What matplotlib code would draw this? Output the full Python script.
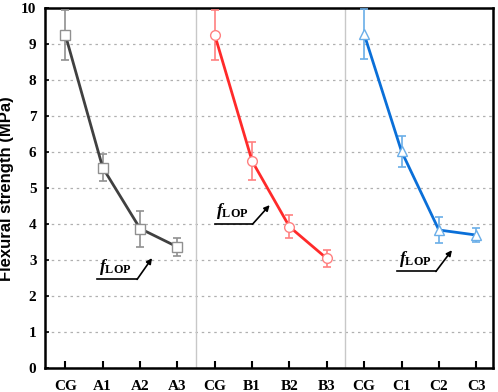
import matplotlib.pyplot as plt
import numpy as np

plt.rcParams['font.family'] = 'Liberation Serif'
plt.rcParams['mathtext.fontset'] = 'custom'
plt.rcParams['mathtext.rm'] = 'Liberation Serif'
plt.rcParams['mathtext.it'] = 'Liberation Serif:italic'
plt.rcParams['mathtext.bf'] = 'Liberation Serif:bold'
plt.rcParams['mathtext.bfit'] = 'Liberation Serif:italic:bold'

labels = ['CG', 'A1', 'A2', 'A3', 'CG', 'B1', 'B2', 'B3', 'CG', 'C1', 'C2', 'C3']

a_vals = [9.25, 5.57, 3.88, 3.37]
a_err = [0.70, 0.38, 0.50, 0.26]
b_vals = [9.25, 5.75, 3.93, 3.05]
b_err = [0.70, 0.53, 0.32, 0.24]
c_vals = [9.27, 6.02, 3.84, 3.70]
c_err = [0.70, 0.43, 0.35, 0.20]

series = [
    (a_vals, a_err, 's', '#404040', '#909090'),
    (b_vals, b_err, 'o', '#ff2a2a', '#ff8080'),
    (c_vals, c_err, '^', '#0a6fd8', '#6aaee8'),
]


def main():
    fig, ax = plt.subplots(figsize=(4.98, 3.92), dpi=100)
    fig.subplots_adjust(left=0.09, right=0.99, top=0.98, bottom=0.06)

    for i, (vals, err, mk, lc, ec) in enumerate(series):
        x = np.arange(4) + 4 * i
        ax.errorbar(x, vals, yerr=err, fmt='none', ecolor=ec, elinewidth=1.2,
                    capsize=3, capthick=1.2, zorder=3)
        ax.plot(x, vals, color=lc, lw=2, zorder=4)
        ax.plot(x, vals, linestyle='none', marker=mk, markersize=7,
                markerfacecolor='white', markeredgecolor=ec, markeredgewidth=1,
                zorder=5)

    # group separators
    for sx in [3.5, 7.5]:
        ax.axvline(sx, color='#c8c8c8', lw=1, zorder=1)

    # f_LOP annotations: (underline start, underline end, y, arrow tip)
    notes = [(0.85, 1.92, 2.47, 2.32, 3.06),
             (4.0, 5.01, 4.0, 5.47, 4.53),
             (8.88, 9.92, 2.69, 10.35, 3.28)]
    for x0, x1, yy, tx, ty in notes:
        ax.text(x0 + 0.04, yy + 0.08, r'$\mathbfit{f}_{\mathbf{LOP}}$',
                fontsize=12.5, ha='left', va='bottom', zorder=6)
        ax.plot([x0, x1], [yy, yy], color='black', lw=1.2, zorder=6)
        ax.annotate('', xy=(tx, ty), xytext=(x1, yy),
                    arrowprops=dict(arrowstyle='-|>', color='black', lw=1.2,
                                    mutation_scale=8, shrinkA=0, shrinkB=0),
                    zorder=6)

    ax.set_xlim(-0.55, 11.45)
    ax.set_ylim(0, 10)
    ax.set_xticks(np.arange(12))
    ax.set_xticklabels(labels, fontweight='bold', fontsize=11)
    ax.set_yticks(np.arange(0, 11))
    ax.set_yticklabels([str(v) for v in range(11)], fontweight='bold', fontsize=11)
    ax.tick_params(axis='x', direction='in', length=5, width=1.5, pad=8)
    ax.tick_params(axis='y', direction='in', length=3, width=1.2, pad=6)
    ax.grid(axis='y', linestyle=(0, (2, 3)), color='#b0b0b0', lw=0.9, zorder=0)
    ax.set_axisbelow(True)
    for sp in ax.spines.values():
        sp.set_linewidth(1.8)

    ax.set_ylabel('Flexural strength (MPa)', fontweight='bold', fontsize=12,
                  family='Liberation Sans', labelpad=5)

    plt.savefig('out.png')


if __name__ == "__main__":
    main()
